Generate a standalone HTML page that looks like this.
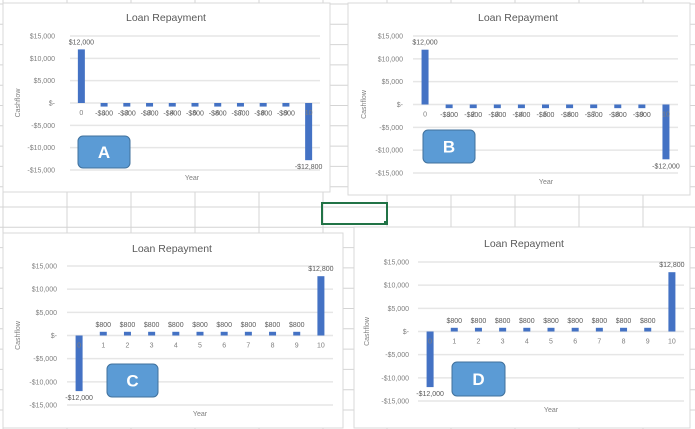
<!DOCTYPE html>
<html><head><meta charset="utf-8"><style>
html,body{margin:0;padding:0;background:#fff;}
svg{display:block;font-family:"Liberation Sans",sans-serif;}
</style></head><body>
<svg id="s" width="695" height="429" viewBox="0 0 695 429">
<g id="grid"></g>
<rect x="322" y="203" width="65" height="21" fill="none" stroke="#217346" stroke-width="2"/>
<rect x="384" y="221" width="4" height="4" fill="#217346"/>
<g id="charts"></g>
</svg>
<script>
const categories = [0,1,2,3,4,5,6,7,8,9,10];
const valuesA = [12000,-800,-800,-800,-800,-800,-800,-800,-800,-800,-12800];
const valuesB = [12000,-800,-800,-800,-800,-800,-800,-800,-800,-800,-12000];
const valuesC = [-12000,800,800,800,800,800,800,800,800,800,12800];
const valuesD = [-12000,800,800,800,800,800,800,800,800,800,12800];
const yTicks = [15000,10000,5000,0,-5000,-10000,-15000];
const yTickLabels = ["$15,000","$10,000","$5,000","$-","-$5,000","-$10,000","-$15,000"];
const NS="http://www.w3.org/2000/svg";
function mk(tag,attrs,parent,text){const e=document.createElementNS(NS,tag);for(const k in attrs)e.setAttribute(k,attrs[k]);if(text!==undefined)e.textContent=text;parent.appendChild(e);return e;}
function fmt(v){return (v<0?"-$":"$")+Math.abs(v).toLocaleString("en-US");}
// spreadsheet grid
const g=document.getElementById("grid");
for(let x=3;x<695;x+=64){const l=mk("line",{x1:x,y1:0,x2:x,y2:429,stroke:"#d4d4d4","stroke-width":1},g);

}
for(let y=4;y<429;y+=20.3){const l=mk("line",{x1:0,y1:y,x2:695,y2:y,stroke:"#d4d4d4","stroke-width":1},g);

}
const specs=[
 {id:"a",vals:valuesA,px:3,py:3,pw:327,ph:189,x0:70,x1:320,yTop:36,yBot:170,labX:55,titleX:166,titleY:21,cfX:20,yearX:192,yearY:180,box:[78,136,52,32],letter:"A"},
 {id:"b",vals:valuesB,px:348,py:3,pw:342,ph:192,x0:413,x1:678,yTop:36,yBot:173,labX:403,titleX:518,titleY:21,cfX:366,yearX:546,yearY:184,box:[423,130,52,33],letter:"B"},
 {id:"c",vals:valuesC,px:3,py:233,pw:340,ph:195,x0:67,x1:333,yTop:266,yBot:405,labX:57,titleX:172,titleY:252,cfX:20,yearX:200,yearY:416,box:[107,364,51,33],letter:"C"},
 {id:"d",vals:valuesD,px:354,py:227,pw:336,ph:201,x0:418,x1:684,yTop:262,yBot:401,labX:409,titleX:524,titleY:247,cfX:369,yearX:551,yearY:412,box:[452,362,53,34],letter:"D"}
];
const root=document.getElementById("charts");
specs.forEach(s=>{
 const c=mk("g",{},root);
 
 
 const bg=mk("rect",{x:s.px,y:s.py,width:s.pw,height:s.ph,fill:"#fff",stroke:"#d9d9d9"},c);
 
 
 const yS=v=>s.yTop+(15000-v)/30000*(s.yBot-s.yTop);
 const step=(s.x1-s.x0)/categories.length;
 const xS=i=>s.x0+step*(i+0.5);
 yTicks.forEach((t,i)=>{
  const l=mk("line",{x1:s.x0,x2:s.x1,y1:yS(t),y2:yS(t),stroke:"#e6e6e6","stroke-width":1.5},c);
  
  
  const tx=mk("text",{x:s.labX,y:yS(t)+2.5,"text-anchor":"end","font-size":"7",fill:"#7f7f7f"},c,yTickLabels[i]);
  
  
 });
 const t=mk("text",{x:s.titleX,y:s.titleY,"text-anchor":"middle","font-size":"10.5",fill:"#595959"},c,"Loan Repayment");
 
 
 const cf=mk("text",{x:s.cfX,y:yS(0),"text-anchor":"middle","font-size":"7",fill:"#7f7f7f",transform:`rotate(-90 ${s.cfX} ${yS(0)})`},c,"Cashflow");
 
 
 const yr=mk("text",{x:s.yearX,y:s.yearY,"text-anchor":"middle","font-size":"7",fill:"#7f7f7f"},c,"Year");
 
 
 s.vals.forEach((v,i)=>{
  const x=xS(i),y0=yS(0),y1=yS(v);
  const b=mk("rect",{x:x-3.5,y:Math.min(y0,y1),width:7,height:Math.max(1,Math.abs(y1-y0)),fill:"#4472c4"},c);
  
  
  const cl=mk("text",{x:x,y:y0+12,"text-anchor":"middle","font-size":"7",fill:"#7f7f7f"},c,String(categories[i]));
  
  
  const ly=v>=0?y1-5:y1+9;
  const dl=mk("text",{x:x,y:ly,"text-anchor":"middle","font-size":"7",fill:"#595959"},c,fmt(v));
  
  
 });
 const [bx,by,bw,bh]=s.box;
 const r=mk("rect",{x:bx,y:by,width:bw,height:bh,rx:5,fill:"#5b9bd5",stroke:"#41719c","stroke-width":1},c);
 
 
 const lt=mk("text",{x:bx+bw/2,y:by+bh/2+6,"text-anchor":"middle","font-size":"17","font-weight":"bold",fill:"#fff"},c,s.letter);
 
 
});
</script>
</body></html>
